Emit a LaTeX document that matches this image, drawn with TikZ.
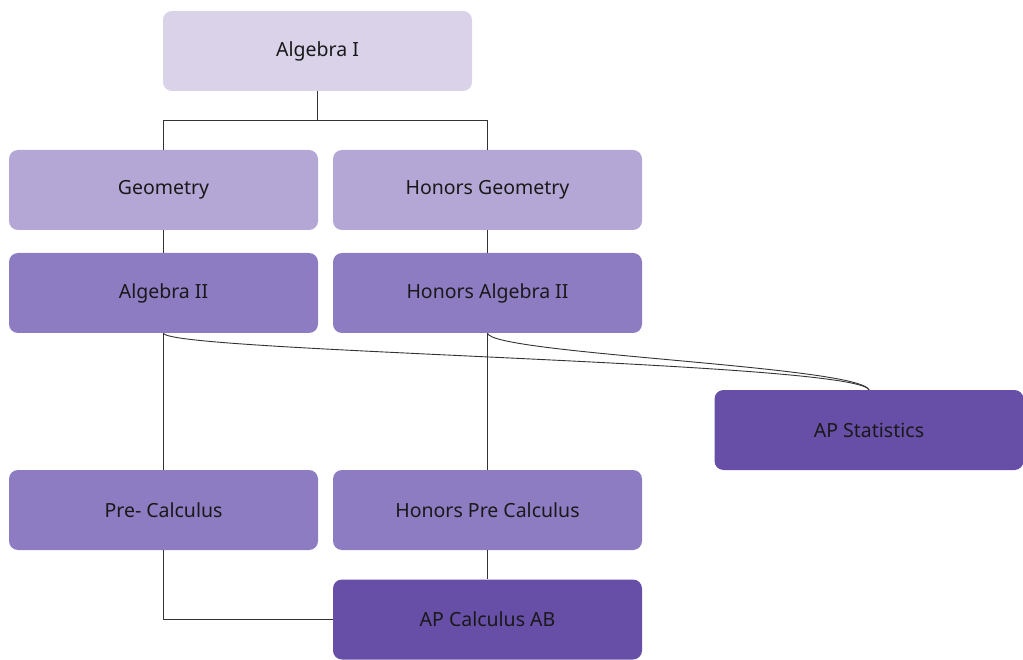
\documentclass[tikz,border=0pt]{standalone}
\usepackage{fontspec}
\setmainfont{Noto Sans}
\usepackage{tikz}

\definecolor{lvlone}{HTML}{D9D2E9}
\definecolor{lvltwo}{HTML}{B4A7D6}
\definecolor{lvlthree}{HTML}{8E7CC3}
\definecolor{lvlfour}{HTML}{674EA7}
\definecolor{wire}{HTML}{333333}

\tikzset{
    course/.style={shape=rectangle, rounded corners=9pt, minimum width=309pt, minimum height=80pt, inner sep=0pt, font=\fontsize{19.5}{22}\selectfont, text=black!90},
    link/.style={draw=wire, line width=0.9pt}
}

\begin{document}
\begin{tikzpicture}[x=1pt, y=-1pt]
    \useasboundingbox (0,0) rectangle (1023,660);
    \node[course, fill=lvlone] at (317.5,51) (A1) {Algebra I};
    \node[course, fill=lvltwo] at (163.5,190) (GEO) {Geometry};
    \node[course, fill=lvltwo] at (487.5,190) (HGEO) {Honors Geometry};
    \node[course, fill=lvlthree] at (163.5,293) (A2) {Algebra II};
    \node[course, fill=lvlthree] at (487.5,293) (HA2) {Honors Algebra II};
    \node[course, fill=lvlfour] at (869,430) (STAT) {AP Statistics};
    \node[course, fill=lvlthree] at (163.5,510) (PRE) {Pre- Calculus};
    \node[course, fill=lvlthree] at (487.5,510) (HPRE) {Honors Pre Calculus};
    \node[course, fill=lvlfour] at (487.5,619.5) (CALC) {AP Calculus AB};
    % branching lines
    \draw[link] (A1.south) -- ++(0,29) -| (GEO.north);
    \draw[link] (A1.south) -- ++(0,29) -| (HGEO.north);
    \draw[link] (GEO.south) -- (A2.north);
    \draw[link] (HGEO.south) -- (HA2.north);
    \draw[link] (A2.south) -- (PRE.north);
    \draw[link] (HA2.south) -- (HPRE.north);
    \draw[link] (HPRE.south) -- (CALC.north);
    \draw[link] (PRE.south) |- (CALC.west);
    % curves to statistics
    \draw[link] (A2.south) .. controls (168,352) and (855,362) .. (STAT.north);
    \draw[link] (HA2.south) .. controls (492,354) and (858,366) .. (STAT.north);
\end{tikzpicture}
\end{document}
